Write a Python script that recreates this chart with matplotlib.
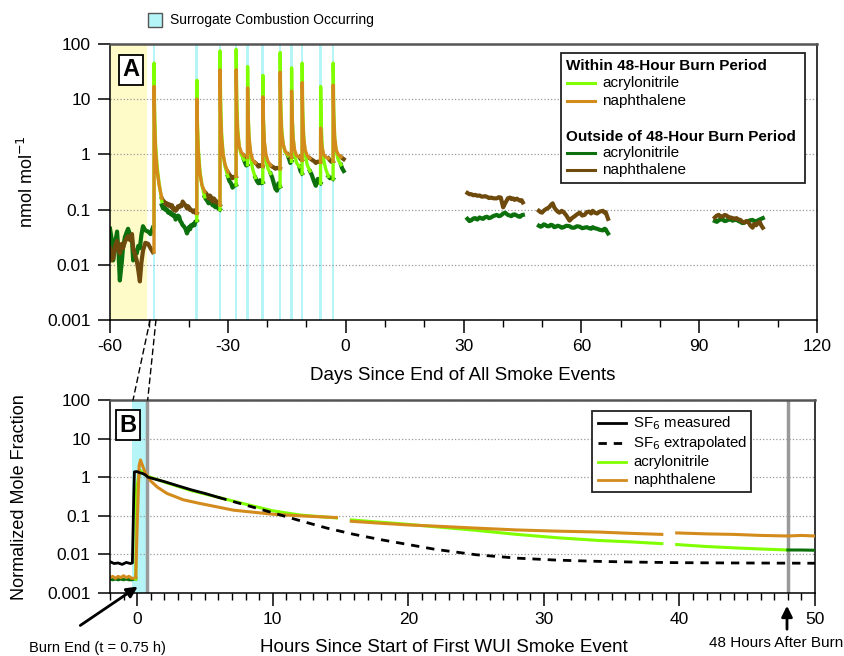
import matplotlib.pyplot as plt
import matplotlib.ticker as mticker
from matplotlib.patches import Rectangle, ConnectionPatch
from matplotlib.lines import Line2D

plt.rcParams['font.family'] = ['Liberation Sans', 'DejaVu Sans']
plt.rcParams['axes.unicode_minus'] = False

W, H = 844, 656

# colours
LIGHT_GREEN = '#80ff00'
ORANGE = '#d38b1c'
DARK_GREEN = '#0c700c'
BROWN = '#6e4a0c'
CYAN = '#b5f5f8'
YELLOW = '#fffbc9'

# ---------------- panel A data (days since end of all smoke events) ----------------
BURN_DAYS = [-48.8, -37.9, -32.0, -27.9, -25.0, -21.1, -16.7, -13.8, -11.1, -6.4, -3.2]
PRE_PERIOD = (-60.0, -50.5)

# days after each burn for the 48-hour window
WITHIN_OFFSETS = [0.0, 0.03, 0.15, 0.4, 0.8, 1.3, 2.0]
ACN_WITHIN = [
    [0.047, 45, 6, 1.5, 0.6, 0.3, 0.14],
    [0.063, 22, 4, 1.2, 0.5, 0.28, 0.17],
    [0.10, 75, 10, 2.5, 1.0, 0.6, 0.40],
    [0.28, 80, 12, 3.0, 1.4, 1.0, 0.80],
    [0.65, 39, 6, 2.0, 0.9, 0.55, 0.38],
    [0.31, 27, 5, 1.6, 0.8, 0.55, 0.45],
    [0.26, 70, 10, 3.0, 1.5, 1.1, 0.95],
    [0.75, 37, 6, 2.2, 1.0, 0.7, 0.60],
    [0.45, 45, 7, 2.2, 1.0, 0.65, 0.50],
    [0.30, 17, 4, 1.5, 0.8, 0.55, 0.40],
    [0.36, 45, 7, 2.0, 1.1, 0.8, 0.65],
]
NAPH_WITHIN = [
    [0.017, 17, 4, 1.2, 0.5, 0.28, 0.16],
    [0.085, 10, 3, 1.0, 0.45, 0.28, 0.21],
    [0.12, 34, 6, 2.0, 1.0, 0.65, 0.48],
    [0.40, 34, 7, 2.5, 1.4, 1.1, 0.95],
    [0.88, 16, 5, 2.0, 1.1, 0.8, 0.70],
    [0.60, 11, 4, 1.7, 1.0, 0.75, 0.63],
    [0.55, 31, 7, 2.5, 1.5, 1.15, 1.0],
    [0.88, 14, 5, 2.0, 1.2, 0.95, 0.90],
    [0.78, 20, 5, 2.0, 1.2, 0.95, 0.85],
    [0.72, 3, 2, 1.3, 1.0, 0.9, 0.85],
    [0.75, 18, 5, 2.0, 1.2, 1.0, 0.90],
]

# data outside the 48-hour window
OUT_DAYS = [
    [-60.0, -59.6, -59.2, -58.7, -58.2, -57.8, -57.5, -57.0, -56.7, -56.2, -55.8, -55.4, -54.9,
     -54.4, -54.1, -53.6, -53.2, -52.8, -52.4, -52.0, -51.6, -51.0, -50.3, -49.7, -49.1],
    [-46.8, -46.5, -46.2, -45.8, -45.5, -45.2, -44.9, -44.5, -44.2, -43.9, -43.6, -43.3, -43.0,
     -42.7, -42.4, -42.1, -41.8, -41.5, -41.2, -40.8, -40.4, -40.1, -39.9, -39.6, -39.4, -39.1,
     -38.8, -38.5, -38.3, -37.9],
    [-35.9, -35.6, -35.4, -35.1, -34.9, -34.6, -34.4, -34.1, -33.9, -33.6, -33.4, -33.1, -32.9,
     -32.6, -32.4, -32.0],
    [-30.0, -29.6, -29.2, -28.8, -28.4, -27.9],
    [-25.9, -25.6, -25.3, -25.0],
    [-23.0, -22.6, -22.2, -21.8, -21.4, -21.1],
    [-19.1, -18.7, -18.3, -17.9, -17.5, -17.1, -16.7],
    [-14.7, -14.4, -14.1, -13.8],
    [-11.8, -11.5, -11.1],
    [-9.1, -8.6, -8.1, -7.6, -7.1, -6.7, -6.4],
    [-4.4, -4.0, -3.6, -3.2],
    [-1.2, -0.9, -0.5],
    [31.0, 31.5, 32.0, 32.5, 33.0, 33.5, 34.1, 34.6, 35.0, 35.5, 36.0, 36.5, 37.0, 37.7, 38.5,
     39.0, 39.5, 40.1, 40.6, 41.3, 41.8, 42.2, 42.6, 43.0, 43.6, 44.0, 44.4, 44.8, 45.1],
    [49.2, 49.6, 50.0, 50.4, 50.8, 51.3, 51.8, 52.2, 52.7, 53.1, 53.5, 54.0, 54.4, 55.0, 55.5,
     56.2, 57.0, 57.6, 58.2, 58.9, 59.6, 60.2, 60.8, 61.4, 62.0, 62.5, 62.9, 63.4, 64.0, 64.7,
     65.5, 65.9, 66.2, 66.5, 66.8],
    [94.0, 94.5, 95.0, 95.5, 96.0, 96.5, 97.0, 97.5, 98.0, 98.5, 99.0, 99.5, 100.0, 100.5,
     101.0, 101.5, 102.0, 102.5, 103.0, 103.6, 104.0, 104.5, 105.0, 105.4, 105.8, 106.2],
]
OUT_ACN = [
    [0.045, 0.03, 0.012, 0.025, 0.04, 0.015, 0.0052, 0.011, 0.02, 0.032, 0.038, 0.045, 0.035,
     0.028, 0.012, 0.018, 0.016, 0.022, 0.02, 0.035, 0.05, 0.042, 0.04, 0.036, 0.047],
    [0.12, 0.105, 0.11, 0.098, 0.10, 0.088, 0.092, 0.082, 0.085, 0.077, 0.08, 0.066, 0.07,
     0.078, 0.075, 0.062, 0.058, 0.052, 0.05, 0.045, 0.037, 0.042, 0.048, 0.044, 0.052, 0.05,
     0.055, 0.052, 0.06, 0.063],
    [0.17, 0.155, 0.15, 0.138, 0.13, 0.14, 0.145, 0.128, 0.12, 0.125, 0.115, 0.11, 0.125,
     0.112, 0.105, 0.10],
    [0.40, 0.33, 0.30, 0.25, 0.27, 0.28],
    [0.80, 0.70, 0.63, 0.65],
    [0.38, 0.33, 0.30, 0.34, 0.30, 0.31],
    [0.45, 0.38, 0.30, 0.24, 0.22, 0.30, 0.26],
    [0.95, 0.82, 0.70, 0.75],
    [0.60, 0.50, 0.45],
    [0.50, 0.42, 0.33, 0.27, 0.36, 0.31, 0.30],
    [0.40, 0.37, 0.38, 0.36],
    [0.65, 0.56, 0.50],
    [0.068, 0.062, 0.064, 0.069, 0.07, 0.066, 0.072, 0.069, 0.068, 0.073, 0.074, 0.07, 0.072,
     0.077, 0.08, 0.076, 0.078, 0.085, 0.088, 0.08, 0.078, 0.076, 0.081, 0.082, 0.078, 0.075,
     0.074, 0.079, 0.08],
    [0.051, 0.049, 0.05, 0.054, 0.053, 0.05, 0.05, 0.053, 0.052, 0.048, 0.049, 0.051, 0.05,
     0.047, 0.048, 0.051, 0.05, 0.047, 0.047, 0.05, 0.049, 0.046, 0.047, 0.048, 0.046, 0.045,
     0.048, 0.046, 0.045, 0.043, 0.042, 0.045, 0.044, 0.04, 0.037],
    [0.062, 0.06, 0.064, 0.067, 0.066, 0.062, 0.063, 0.067, 0.066, 0.063, 0.065, 0.066, 0.062,
     0.06, 0.057, 0.058, 0.061, 0.062, 0.064, 0.065, 0.062, 0.06, 0.064, 0.066, 0.068, 0.07],
]
OUT_NAPH = [
    [0.02, 0.012, 0.013, 0.022, 0.027, 0.018, 0.016, 0.024, 0.02, 0.026, 0.03, 0.033, 0.028,
     0.036, 0.02, 0.015, 0.012, 0.008, 0.005, 0.011, 0.018, 0.025, 0.024, 0.02, 0.017],
    [0.16, 0.145, 0.14, 0.125, 0.13, 0.118, 0.125, 0.112, 0.12, 0.1, 0.105, 0.095, 0.10,
     0.115, 0.11, 0.12, 0.115, 0.14, 0.13, 0.12, 0.105, 0.115, 0.11, 0.098, 0.10, 0.095,
     0.09, 0.097, 0.088, 0.085],
    [0.21, 0.2, 0.19, 0.17, 0.16, 0.18, 0.175, 0.15, 0.14, 0.16, 0.155, 0.14, 0.135,
     0.14, 0.13, 0.12],
    [0.48, 0.43, 0.40, 0.37, 0.39, 0.40],
    [0.95, 0.90, 0.85, 0.88],
    [0.70, 0.66, 0.60, 0.64, 0.61, 0.60],
    [0.63, 0.60, 0.58, 0.55, 0.57, 0.56, 0.55],
    [1.0, 0.93, 0.86, 0.88],
    [0.90, 0.83, 0.78],
    [0.85, 0.80, 0.76, 0.70, 0.74, 0.73, 0.72],
    [0.85, 0.78, 0.73, 0.75],
    [0.90, 0.86, 0.82],
    [0.20, 0.19, 0.19, 0.182, 0.185, 0.178, 0.18, 0.172, 0.172, 0.175, 0.17, 0.162, 0.165,
     0.16, 0.16, 0.168, 0.165, 0.11, 0.13, 0.16, 0.165, 0.155, 0.16, 0.15, 0.158, 0.15,
     0.145, 0.148, 0.135],
    [0.095, 0.09, 0.088, 0.095, 0.10, 0.105, 0.11, 0.12, 0.13, 0.11, 0.10, 0.092, 0.088,
     0.095, 0.09, 0.078, 0.063, 0.07, 0.075, 0.082, 0.088, 0.078, 0.08, 0.09, 0.092, 0.085,
     0.095, 0.088, 0.085, 0.092, 0.095, 0.088, 0.09, 0.078, 0.068],
    [0.072, 0.078, 0.08, 0.074, 0.075, 0.08, 0.078, 0.072, 0.072, 0.07, 0.068, 0.07, 0.066,
     0.065, 0.06, 0.058, 0.062, 0.06, 0.052, 0.047, 0.055, 0.052, 0.058, 0.06, 0.052, 0.047],
]

# ---------------- panel B data (hours since start of first WUI smoke event) ----------------
BURN_B = (-0.4, 0.75)
BURN_END_H = 0.75
AFTER_48_H = 48.0

SF6_MEAS_H = [-2.0, -1.7, -1.4, -1.1, -0.8, -0.5, -0.35, -0.25, -0.2, 0.0, 0.2, 0.4, 0.6,
              0.8, 2.0, 3.0, 4.0, 5.0, 6.0]
SF6_MEAS = [0.0065, 0.0058, 0.006, 0.0055, 0.0062, 0.0058, 0.006, 0.3, 1.38, 1.4, 1.3, 1.25,
            1.15, 1.0, 0.77, 0.6, 0.47, 0.38, 0.30]
SF6_EXTRAP_H = [6, 8, 10, 12, 14, 16, 18, 20, 22, 25, 28, 31, 34, 37, 40, 44, 50]
SF6_EXTRAP = [0.30, 0.19, 0.12, 0.075, 0.048, 0.033, 0.024, 0.018, 0.0135, 0.0098, 0.008,
              0.0071, 0.0066, 0.0063, 0.0061, 0.006, 0.0059]

PRE_B_H = [-2.0, -1.8, -1.6, -1.4, -1.2, -1.0, -0.8, -0.6, -0.4, -0.2, -0.1]
ACN_PRE_B = [0.0023, 0.0022, 0.0023, 0.0022, 0.0023, 0.0022, 0.0023, 0.0022, 0.0022, 0.0023, 0.0023]
NAPH_PRE_B = [0.0025, 0.0027, 0.0024, 0.0027, 0.0025, 0.0028, 0.0025, 0.0027, 0.0024, 0.0024, 0.0026]

ACN_B_H = [[-0.1, -0.05, 0.2, 0.3, 0.5, 0.8, 2, 4, 6, 8, 10, 12, 14.7],
           [15.8, 18, 20, 22, 25, 28, 31, 34, 36.5, 38.7],
           [39.8, 42, 44, 46, 48]]
ACN_B = [[0.0023, 0.5, 1.5, 1.4, 1.25, 1.05, 0.75, 0.45, 0.30, 0.20, 0.135, 0.105, 0.088],
         [0.078, 0.068, 0.06, 0.052, 0.042, 0.033, 0.027, 0.023, 0.021, 0.019],
         [0.018, 0.016, 0.0148, 0.0138, 0.013]]
ACN_B_AFTER_H = [48, 49, 50]
ACN_B_AFTER = [0.013, 0.013, 0.0128]

NAPH_B_H = [[-0.1, 0.0, 0.15, 0.25, 0.4, 0.6, 1.0, 1.5, 2.2, 3.4, 4.6, 7.1, 10, 12, 14.7],
            [15.8, 18, 20, 22, 25, 28, 31, 34, 36.5, 38.7],
            [39.8, 42, 44, 46, 48, 49, 50]]
NAPH_B = [[0.0025, 0.05, 2.0, 2.8, 2.0, 1.3, 0.8, 0.55, 0.38, 0.26, 0.21, 0.14, 0.11, 0.10, 0.09],
          [0.072, 0.064, 0.058, 0.054, 0.048, 0.043, 0.040, 0.038, 0.035, 0.033],
          [0.036, 0.034, 0.033, 0.031, 0.030, 0.031, 0.030]]


def fp(x, y):
    """pixel position (from top-left) -> figure fraction"""
    return (x / W, 1 - y / H)


def style_axes(ax):
    ax.set_yscale('log')
    ax.set_ylim(0.001, 100)
    ax.yaxis.set_major_locator(mticker.FixedLocator([0.001, 0.01, 0.1, 1, 10, 100]))
    ax.yaxis.set_major_formatter(mticker.FuncFormatter(lambda v, p: '%g' % v))
    ax.yaxis.set_minor_locator(mticker.NullLocator())
    ax.grid(True, axis='y', linestyle=':', color='#999999', lw=0.9)
    ax.set_axisbelow(True)
    ax.tick_params(which='major', direction='out', length=9, width=1.1, labelsize=12.5, pad=5)
    ax.tick_params(which='minor', direction='out', length=5, width=1.0)
    ax.tick_params(top=False, right=False)
    for side in ['left', 'bottom', 'right']:
        ax.spines[side].set_linewidth(1.1)
    ax.spines['top'].set_color('#555555')
    ax.spines['top'].set_linewidth(1.8)


fig = plt.figure(figsize=(W / 100, H / 100), dpi=100)

# ================= panel A =================
axA = fig.add_axes([110 / W, 1 - 320 / H, 707 / W, 276 / H])
style_axes(axA)
axA.set_xlim(-60, 120)
axA.xaxis.set_major_locator(mticker.MultipleLocator(30))
axA.xaxis.set_minor_locator(mticker.MultipleLocator(10))

axA.axvspan(PRE_PERIOD[0], PRE_PERIOD[1], color=YELLOW, zorder=0, lw=0)
for b in BURN_DAYS:
    axA.axvspan(b - 0.35, b + 0.35, color=CYAN, zorder=0.5, lw=0)

for d, a, n in zip(OUT_DAYS, OUT_ACN, OUT_NAPH):
    axA.plot(d, a, color=DARK_GREEN, lw=3.0, zorder=2)
    axA.plot(d, n, color=BROWN, lw=3.0, zorder=2.1)
for b, a, n in zip(BURN_DAYS, ACN_WITHIN, NAPH_WITHIN):
    days = [b + o for o in WITHIN_OFFSETS]
    axA.plot(days, a, color=LIGHT_GREEN, lw=2.4, zorder=3)
    axA.plot(days, n, color=ORANGE, lw=2.4, zorder=3.1)

fig.text(*fp(463, 375), 'Days Since End of All Smoke Events', ha='center', va='center',
         fontsize=13.5)
fig.text(*fp(27, 182), 'nmol mol$^{-1}$', rotation=90, ha='center', va='center', fontsize=13)
fig.text(*fp(131, 70), 'A', ha='center', va='center', fontsize=17, fontweight='bold',
         bbox=dict(boxstyle='square,pad=0.15', facecolor='white', edgecolor='black', lw=1.3))

# legend A (drawn by hand to get the bold group headers)
fig.patches.append(Rectangle(fp(561, 183), 244 / W, 130 / H, transform=fig.transFigure,
                             facecolor='white', edgecolor='#222222', lw=1.3, zorder=5))
legA = [
    ('Within 48-Hour Burn Period', None, 66),
    ('acrylonitrile', LIGHT_GREEN, 83),
    ('naphthalene', ORANGE, 101),
    ('Outside of 48-Hour Burn Period', None, 137),
    ('acrylonitrile', DARK_GREEN, 153),
    ('naphthalene', BROWN, 170),
]
for label, col, yy in legA:
    if col is None:
        fig.text(*fp(566, yy), label, ha='left', va='center', fontsize=11, fontweight='bold',
                 zorder=6)
    else:
        x0, y0 = fp(567, yy)
        x1, _ = fp(595, yy)
        fig.add_artist(Line2D([x0, x1], [y0, y0], color=col, lw=2.2, zorder=6))
        fig.text(*fp(602, yy), label, ha='left', va='center', fontsize=11, zorder=6)

# top legend for the surrogate combustion shading
fig.patches.append(Rectangle(fp(148, 27), 14 / W, 14 / H, transform=fig.transFigure,
                             facecolor=CYAN, edgecolor='#555555', lw=1.0))
fig.text(*fp(170, 20), 'Surrogate Combustion Occurring', ha='left', va='center', fontsize=10)

# ================= panel B =================
axB = fig.add_axes([110 / W, 1 - 593 / H, 705 / W, 193 / H])
style_axes(axB)
axB.set_xlim(-2, 50)
axB.xaxis.set_major_locator(mticker.MultipleLocator(10))
axB.xaxis.set_minor_locator(mticker.MultipleLocator(1))

axB.axvspan(BURN_B[0], BURN_B[1], color=CYAN, zorder=0.5, lw=0)
axB.axvline(BURN_END_H, color='#999999', lw=2.5, zorder=1)
axB.axvline(AFTER_48_H, color='#999999', lw=2.5, zorder=1)

axB.plot(PRE_B_H, ACN_PRE_B, color=DARK_GREEN, lw=2.2, zorder=2)
axB.plot(PRE_B_H, NAPH_PRE_B, color=ORANGE, lw=2.2, zorder=2.1)
for h, v in zip(ACN_B_H, ACN_B):
    axB.plot(h, v, color=LIGHT_GREEN, lw=2.2, zorder=3)
axB.plot(ACN_B_AFTER_H, ACN_B_AFTER, color=DARK_GREEN, lw=2.2, zorder=3)
for h, v in zip(NAPH_B_H, NAPH_B):
    axB.plot(h, v, color=ORANGE, lw=2.2, zorder=3.1)
axB.plot(SF6_EXTRAP_H, SF6_EXTRAP, color='black', lw=2.0, ls=(0, (3, 2.5)), zorder=4)
axB.plot(SF6_MEAS_H, SF6_MEAS, color='black', lw=2.0, zorder=4)

fig.text(*fp(444, 648), 'Hours Since Start of First WUI Smoke Event', ha='center',
         va='center', fontsize=13.5)
fig.text(*fp(20, 497), 'Normalized Mole Fraction', rotation=90, ha='center', va='center',
         fontsize=13)
fig.text(*fp(128, 425), 'B', ha='center', va='center', fontsize=17, fontweight='bold',
         bbox=dict(boxstyle='square,pad=0.15', facecolor='white', edgecolor='black', lw=1.3))

# legend B
fig.patches.append(Rectangle(fp(592, 492), 159 / W, 81 / H, transform=fig.transFigure,
                             facecolor='white', edgecolor='#222222', lw=1.3, zorder=5))
legB = [
    ('SF$_6$ measured', 'black', '-', 423),
    ('SF$_6$ extrapolated', 'black', (0, (3, 2.5)), 443),
    ('acrylonitrile', LIGHT_GREEN, '-', 462),
    ('naphthalene', ORANGE, '-', 480),
]
for label, col, ls, yy in legB:
    x0, y0 = fp(598, yy)
    x1, _ = fp(626, yy)
    fig.add_artist(Line2D([x0, x1], [y0, y0], color=col, lw=2.0, ls=ls, zorder=6))
    fig.text(*fp(633, yy), label, ha='left', va='center', fontsize=10.8, zorder=6)

# annotations below panel B
axB.annotate('', xy=fp(140, 585), xycoords='figure fraction', xytext=fp(78, 627),
             textcoords='figure fraction',
             arrowprops=dict(arrowstyle='-|>', color='black', lw=2.0, mutation_scale=16),
             annotation_clip=False)
fig.text(*fp(97, 648), 'Burn End (t = 0.75 h)', ha='center', va='center', fontsize=10.5)
axB.annotate('', xy=fp(787, 603), xycoords='figure fraction', xytext=fp(787, 632),
             textcoords='figure fraction',
             arrowprops=dict(arrowstyle='-|>', color='black', lw=2.0, mutation_scale=16),
             annotation_clip=False)
fig.text(*fp(776, 643), '48 Hours After Burn', ha='center', va='center', fontsize=11)

# dashed zoom lines linking the first burn in A to panel B
for xa, xb in [(-49.8, -0.3), (-48.3, 0.78)]:
    con = ConnectionPatch(xyA=(xa, 0.001), coordsA=axA.transData,
                          xyB=(xb, 100), coordsB=axB.transData,
                          color='black', lw=1.0, ls=(0, (4, 3)))
    fig.add_artist(con)

fig.savefig('out.png', dpi=100)
